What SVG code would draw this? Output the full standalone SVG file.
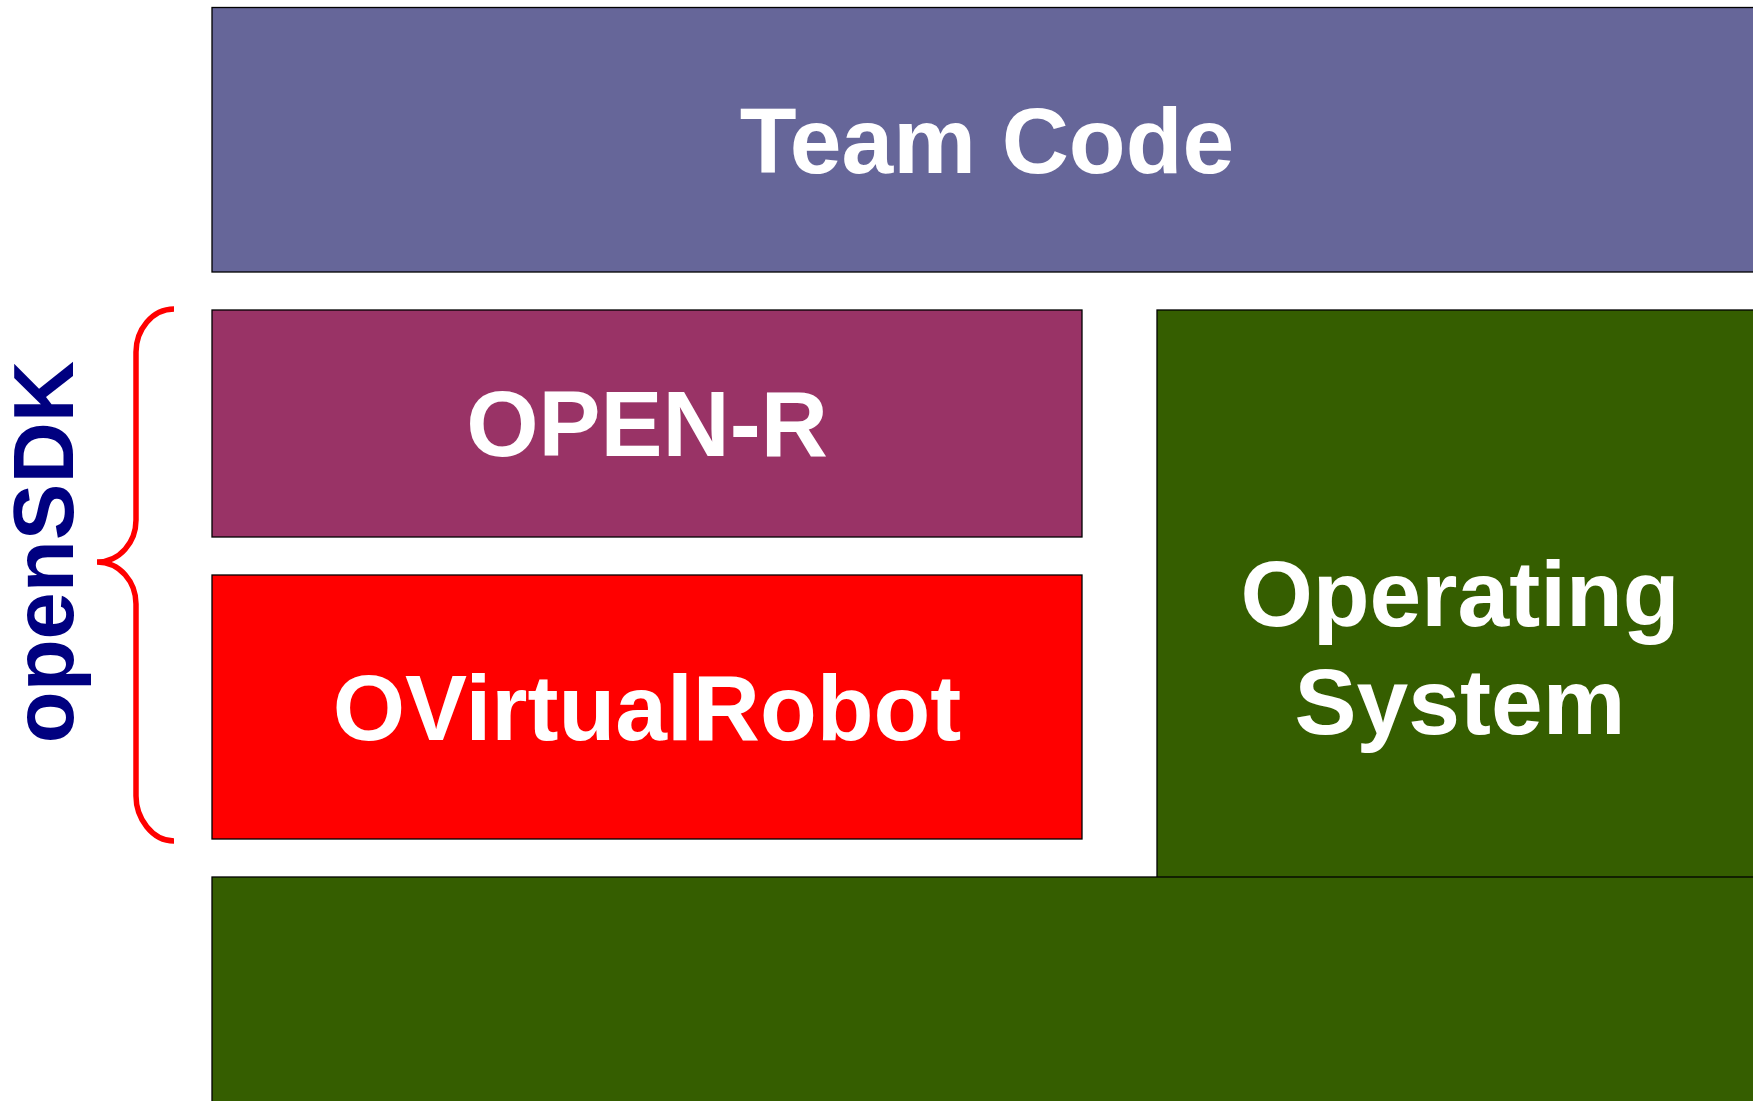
<svg xmlns="http://www.w3.org/2000/svg" width="1753" height="1101" viewBox="0 0 1753 1101">
<style>
.box{stroke:#000;stroke-width:1.3}
.lbl{font-family:"Liberation Sans",Arial,sans-serif;font-weight:bold;fill:#fff;font-size:93px;text-anchor:middle}
</style>
<rect width="1753" height="1101" fill="#fff"/>
<g id="team-code">
<rect class="box" x="212" y="7.5" width="1560" height="264.5" fill="#666699"/>
<text class="lbl" x="987" y="173">Team Code</text>
</g>
<g id="open-r">
<rect class="box" x="212" y="310" width="870" height="227" fill="#993366"/>
<text class="lbl" x="647" y="456">OPEN-R</text>
</g>
<g id="ovirtualrobot">
<rect class="box" x="212" y="575" width="870" height="264" fill="#FF0000"/>
<text class="lbl" x="647" y="740">OVirtualRobot</text>
</g>
<g id="operating-system">
<rect class="box" x="1157" y="310" width="610" height="620" fill="#355E00"/>
<text class="lbl" x="1460" y="626">Operating</text>
<text class="lbl" x="1460" y="734">System</text>
</g>
<g id="hardware">
<rect class="box" x="212" y="877" width="1560" height="240" fill="#355E00"/>
</g>
<g id="opensdk">
<path d="M174,309 C152,309 136,330 136,352 L136,520 C136,542 120,562 97,562 C120,562 136,582 136,604 L136,796 C136,818 152,841 174,841" fill="none" stroke="#FF0000" stroke-width="5.5"/>
<text transform="translate(73,552) rotate(-90)" font-family="Liberation Sans,Arial,sans-serif" font-weight="bold" font-size="85" fill="#000080" text-anchor="middle">openSDK</text>
</g>
<g id="connectors"/>
</svg>
